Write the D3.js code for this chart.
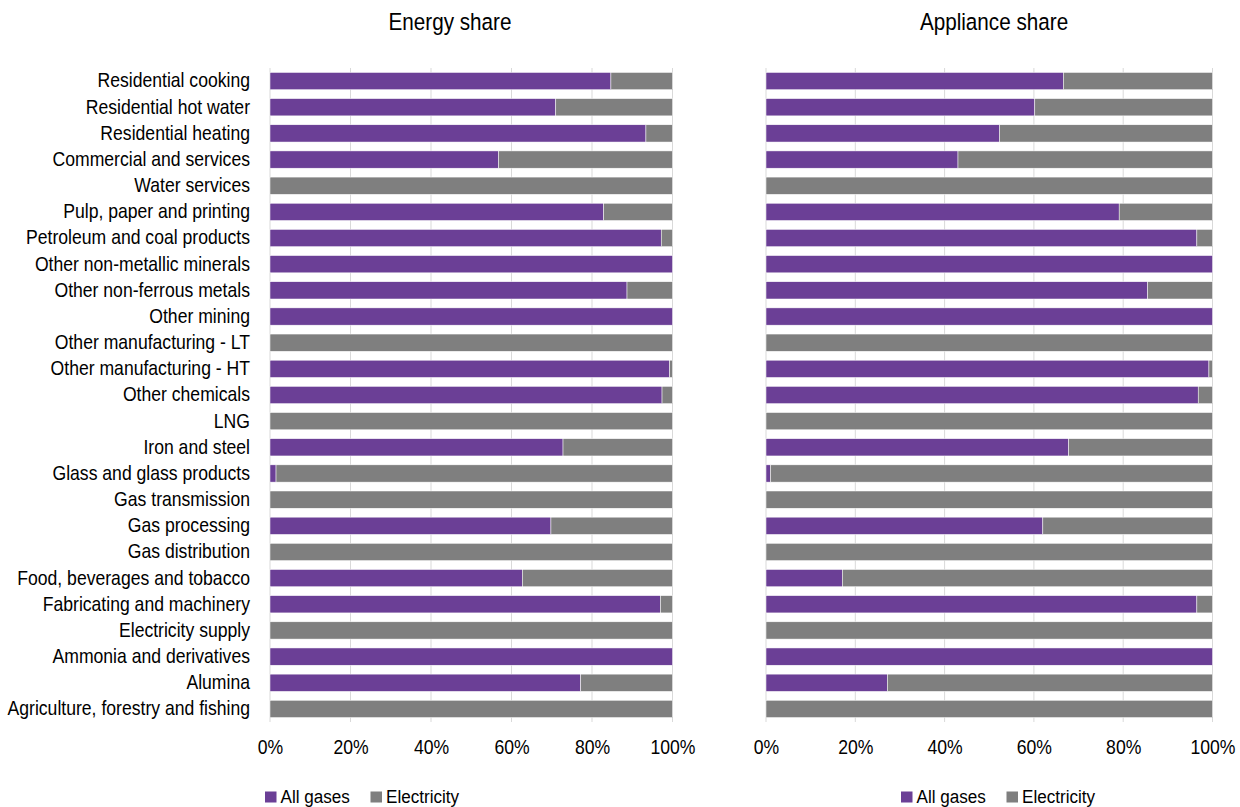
<!DOCTYPE html>
<html><head><meta charset="utf-8">
<script src="https://cdn.jsdelivr.net/npm/d3@7"></script>
<style>body{margin:0;background:#fff}svg{display:block}text{font-family:"Liberation Sans",Arial,sans-serif;fill:#000}</style>
</head><body><svg id="c" width="1240" height="807"></svg>
<script>
const categories = ["Residential cooking","Residential hot water","Residential heating","Commercial and services","Water services","Pulp, paper and printing","Petroleum and coal products","Other non-metallic minerals","Other non-ferrous metals","Other mining","Other manufacturing - LT","Other manufacturing - HT","Other chemicals","LNG","Iron and steel","Glass and glass products","Gas transmission","Gas processing","Gas distribution","Food, beverages and tobacco","Fabricating and machinery","Electricity supply","Ammonia and derivatives","Alumina","Agriculture, forestry and fishing"];
const energyGases = [84.7,71.0,93.4,56.8,0,82.9,97.2,100,88.7,100,0,99.3,97.4,0,72.8,1.5,0,69.8,0,62.7,97.0,0,100,77.2,0];
const applianceGases = [66.6,60.2,52.3,43.0,0,79.1,96.5,100,85.5,100,0,99.2,96.8,0,67.8,1.0,0,62.0,0,17.1,96.5,0,100,27.2,0];
const seriesNames = ["All gases","Electricity"];
const tickValues = [0,20,40,60,80,100];
const titles = ["Energy share","Appliance share"];

const colors = ["#6b3f96","#7f7f7f"];
const SX = 0.88;
const svg = d3.select("#c");
const y = d3.scaleBand().domain(categories).range([68,722]).paddingInner(0.34).paddingOuter(0.17);

const panels = [
  {x0:270,x1:672.5,data:energyGases,title:titles[0],labels:true,legendX:265,titleX:450},
  {x0:766,x1:1212.5,data:applianceGases,title:titles[1],labels:false,legendX:901,titleX:994}
];

panels.forEach(p=>{
  const x = d3.scaleLinear().domain([0,100]).range([p.x0,p.x1]);
  const g = svg.append("g");
  g.selectAll("line.grid").data(tickValues).join("line")
    .attr("x1",d=>x(d)).attr("x2",d=>x(d)).attr("y1",68).attr("y2",722)
    .attr("stroke","#d9d9d9").attr("stroke-width",1);
  const rows = categories.map((c,i)=>({c, g:p.data[i], e:100-p.data[i]}));
  const stack = d3.stack().keys(["g","e"])(rows);
  stack.forEach((s,si)=>{
    g.selectAll(null).data(s).join("rect")
      .attr("x",d=>x(d[0])).attr("width",d=>Math.max(0,x(d[1])-x(d[0])))
      .attr("y",d=>y(d.data.c)).attr("height",y.bandwidth())
      .attr("fill",colors[si]).attr("stroke","#ffffff").attr("stroke-width",0.5);
  });
  const ax = d3.axisBottom(x).tickValues(tickValues).tickFormat(d=>d+"%").tickSize(0).tickPadding(0);
  const axg = g.append("g").attr("transform","translate(0,754)").call(ax);
  axg.select(".domain").remove();
  axg.selectAll("text").style("font-size","20px").style("font-family",'"Liberation Sans",Arial,sans-serif')
    .attr("fill","#000").attr("y",0).attr("dy",0).attr("transform",`scale(${SX},1)`);
  if(p.labels){
    const yax = d3.axisLeft(y).tickSize(0).tickPadding(0);
    const yg = g.append("g").attr("transform","translate(250,0)").call(yax);
    yg.select(".domain").remove();
    yg.selectAll("text").style("font-size","20px").style("font-family",'"Liberation Sans",Arial,sans-serif')
      .attr("fill","#000").attr("dy","0.32em").attr("transform",`scale(${SX},1)`);
  }
  svg.append("text").attr("transform",`translate(${p.titleX},29.5) scale(${SX},1)`).attr("text-anchor","middle")
    .style("font-size","23.5px").text(p.title);
  const lg = svg.append("g").attr("transform",`translate(${p.legendX},797)`);
  const offs = [0,105.5];
  seriesNames.forEach((n,i)=>{
    lg.append("rect").attr("x",offs[i]).attr("y",-5.5).attr("width",11.5).attr("height",11).attr("fill",colors[i]);
    lg.append("text").attr("transform",`translate(${offs[i]+15.5},6.3) scale(0.9,1)`).style("font-size","19px").text(n);
  });
});
</script></body></html>
